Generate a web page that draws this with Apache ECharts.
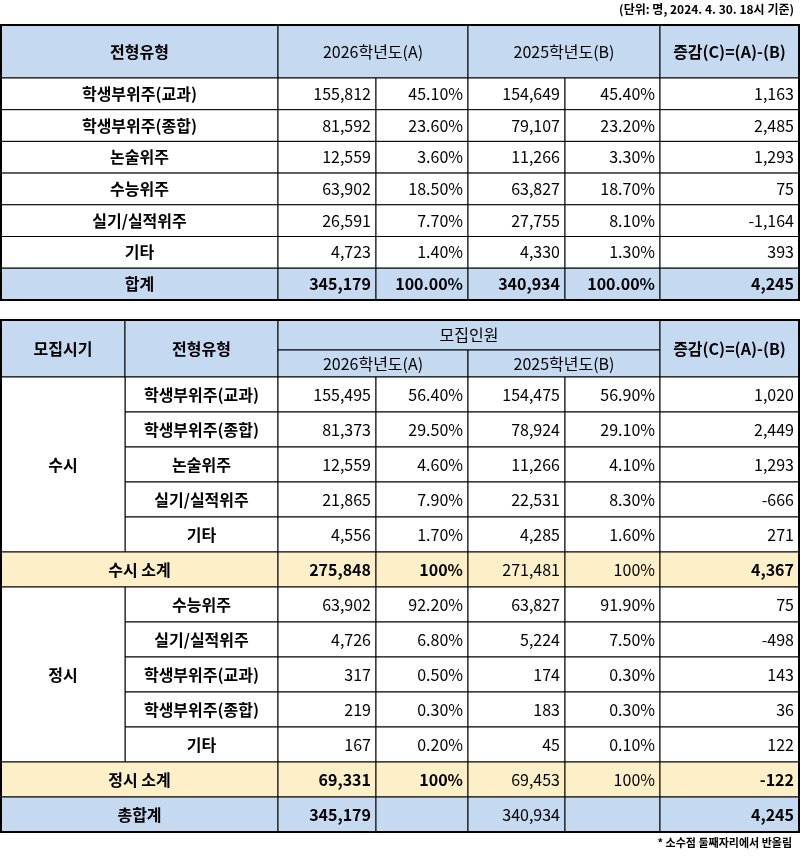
<!DOCTYPE html>
<html><head><meta charset="utf-8">
<script src="https://cdn.jsdelivr.net/npm/echarts@6/dist/echarts.min.js"></script>
<style>html,body{margin:0;padding:0;background:#fff}#c{width:800px;height:857px}</style>
</head><body><div id="c"></div>
<script>
// ---- data ----
const t1Types = ['학생부위주(교과)','학생부위주(종합)','논술위주','수능위주','실기/실적위주','기타'];
const t1A = [155812,81592,12559,63902,26591,4723];
const t1APct = ['45.10%','23.60%','3.60%','18.50%','7.70%','1.40%'];
const t1B = [154649,79107,11266,63827,27755,4330];
const t1BPct = ['45.40%','23.20%','3.30%','18.70%','8.10%','1.30%'];
const t1Diff = [1163,2485,1293,75,-1164,393];
const t1Total = [345179,'100.00%',340934,'100.00%',4245];

const susiTypes = ['학생부위주(교과)','학생부위주(종합)','논술위주','실기/실적위주','기타'];
const susiA = [155495,81373,12559,21865,4556];
const susiAPct = ['56.40%','29.50%','4.60%','7.90%','1.70%'];
const susiB = [154475,78924,11266,22531,4285];
const susiBPct = ['56.90%','29.10%','4.10%','8.30%','1.60%'];
const susiDiff = [1020,2449,1293,-666,271];
const susiSub = [275848,'100%',271481,'100%',4367];

const jsTypes = ['수능위주','실기/실적위주','학생부위주(교과)','학생부위주(종합)','기타'];
const jsA = [63902,4726,317,219,167];
const jsAPct = ['92.20%','6.80%','0.50%','0.30%','0.20%'];
const jsB = [63827,5224,174,183,45];
const jsBPct = ['91.90%','7.50%','0.30%','0.30%','0.10%'];
const jsDiff = [75,-498,143,36,122];
const jsSub = [69331,'100%',69453,'100%',-122];
const grandTotal = [345179,'',340934,'',4245];

// ---- layout ----
const BLUE='#c5d9f1', TAN='#fdf0c8', W='#ffffff';
const c1 = [1,278,376,468,565,660,799];
const c2 = [1,125,278,376,468,565,660,799];
const fmt = v => typeof v==='number' ? v.toLocaleString('en-US') : v;
const cells = [];
function cell(x0,x1,y0,y1,text,o){o=o||{};cells.push([x0,x1,y0,y1,String(text),o.fill||W,o.align||'center',o.bold?1:0,o.frame?1:0]);}

const t1Top=25, t1Hh=53, rh1=31.7;
cell(c1[0],c1[1],t1Top,t1Top+t1Hh,'전형유형',{fill:BLUE,bold:1});
cell(c1[1],c1[3],t1Top,t1Top+t1Hh,'2026학년도(A)',{fill:BLUE});
cell(c1[3],c1[5],t1Top,t1Top+t1Hh,'2025학년도(B)',{fill:BLUE});
cell(c1[5],c1[6],t1Top,t1Top+t1Hh,'증감(C)=(A)-(B)',{fill:BLUE,bold:1});
function numRow(cols,start,y0,y1,vals,fill,boldMask){
  vals.forEach((v,i)=>cell(cols[start+i],cols[start+i+1],y0,y1,fmt(v),{fill,align:'right',bold:boldMask[i]}));
}
const NB=[0,0,0,0,0], AB=[1,1,1,1,1], SB=[1,1,0,0,1];
let y=t1Top+t1Hh;
t1Types.forEach((t,i)=>{
  cell(c1[0],c1[1],y,y+rh1,t,{bold:1});
  numRow(c1,1,y,y+rh1,[t1A[i],t1APct[i],t1B[i],t1BPct[i],t1Diff[i]],W,NB);
  y+=rh1;
});
cell(c1[0],c1[1],y,y+rh1,'합계',{fill:BLUE,bold:1});
numRow(c1,1,y,y+rh1,t1Total,BLUE,AB);
y+=rh1;
cell(c1[0],c1[6],t1Top,y,'',{frame:1});

const t2Top=320, hr1=30, hr2=27, rh2=35;
cell(c2[0],c2[1],t2Top,t2Top+hr1+hr2,'모집시기',{fill:BLUE,bold:1});
cell(c2[1],c2[2],t2Top,t2Top+hr1+hr2,'전형유형',{fill:BLUE,bold:1});
cell(c2[2],c2[6],t2Top,t2Top+hr1,'모집인원',{fill:BLUE});
cell(c2[2],c2[4],t2Top+hr1,t2Top+hr1+hr2,'2026학년도(A)',{fill:BLUE});
cell(c2[4],c2[6],t2Top+hr1,t2Top+hr1+hr2,'2025학년도(B)',{fill:BLUE});
cell(c2[6],c2[7],t2Top,t2Top+hr1+hr2,'증감(C)=(A)-(B)',{fill:BLUE,bold:1});
y=t2Top+hr1+hr2;
function block(name,types,A,AP,B,BP,D,sub,subName){
  const y0=y;
  types.forEach((t,i)=>{
    cell(c2[1],c2[2],y,y+rh2,t,{bold:1});
    numRow(c2,2,y,y+rh2,[A[i],AP[i],B[i],BP[i],D[i]],W,NB);
    y+=rh2;
  });
  cell(c2[0],c2[1],y0,y,name,{bold:1});
  cell(c2[0],c2[2],y,y+rh2,subName,{fill:TAN,bold:1});
  numRow(c2,2,y,y+rh2,sub,TAN,SB);
  y+=rh2;
}
block('수시',susiTypes,susiA,susiAPct,susiB,susiBPct,susiDiff,susiSub,'수시 소계');
block('정시',jsTypes,jsA,jsAPct,jsB,jsBPct,jsDiff,jsSub,'정시 소계');
cell(c2[0],c2[2],y,y+rh2,'총합계',{fill:BLUE,bold:1});
numRow(c2,2,y,y+rh2,grandTotal,BLUE,SB);
y+=rh2;
cell(c2[0],c2[7],t2Top,y,'',{frame:1});

const FONT='"Noto Sans CJK KR","Noto Sans",sans-serif';
const chart=echarts.init(document.getElementById('c'));
chart.setOption({
  animation:false,
  grid:{left:0,right:0,top:0,bottom:0},
  xAxis:{type:'value',min:0,max:800,show:false},
  yAxis:{type:'value',min:0,max:857,inverse:true,show:false},
  graphic:[
    {type:'text',right:6,top:3,style:{text:'(단위: 명, 2024. 4. 30. 18시 기준)',font:'bold 12px '+FONT,fill:'#000'}},
    {type:'text',right:8,top:837,style:{text:'* 소수점 둘째자리에서 반올림',font:'bold 11px '+FONT,fill:'#000'}}
  ],
  series:[{
    type:'custom',
    data:cells,
    renderItem:(params,api)=>{
      const d=cells[params.dataIndex];
      const p0=api.coord([d[0],d[2]]), p1=api.coord([d[1],d[3]]);
      const w=p1[0]-p0[0], h=p1[1]-p0[1];
      if(d[8]) return {type:'rect',shape:{x:p0[0],y:p0[1],width:w,height:h},style:{fill:'none',stroke:'#000',lineWidth:2}};
      const al=d[6];
      return {type:'group',children:[
        {type:'rect',shape:{x:p0[0],y:p0[1],width:w,height:h},style:{fill:d[5],stroke:'#000',lineWidth:1}},
        {type:'text',x:al==='right'?p1[0]-5:p0[0]+w/2,y:p0[1]+h/2,
         style:{text:d[4],textAlign:al,textVerticalAlign:'middle',font:(d[7]?'bold ':'')+'16px '+FONT,fill:'#000'}}
      ]};
    }
  }]
});
</script></body></html>
